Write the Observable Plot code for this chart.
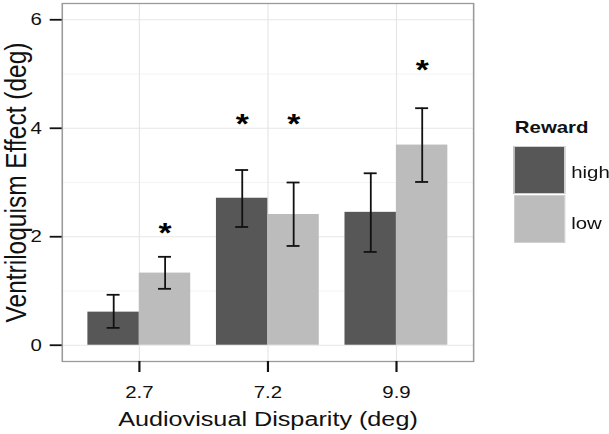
<!DOCTYPE html>
<html>
<head>
<meta charset="utf-8">
<script src="https://cdn.jsdelivr.net/npm/d3@7"></script>
<script src="https://cdn.jsdelivr.net/npm/@observablehq/plot@0.6"></script>
<style>
  html, body { margin: 0; padding: 0; background: #fff; }
  #wrap { position: relative; width: 609px; height: 434px; overflow: hidden; background: #fff; }
  #inner { position: absolute; left: 0; top: 0; width: 507.5px; height: 434px; transform: scaleX(1.2); transform-origin: 0 0; font-family: "Liberation Sans", Arial, sans-serif; }
  #legend { position: absolute; left: 0; top: 0; width: 507.5px; height: 434px; pointer-events: none; }
  .lg-title { position: absolute; left: 429px; top: 117px; font-size: 17px; font-weight: bold; color: #111; line-height: 22px; }
  .lg-key { position: absolute; left: 428px; width: 43px; height: 48px; box-sizing: border-box; border: 1px solid #d0d0d0; }
  .lg-lab { position: absolute; left: 476px; font-size: 17px; color: #111; line-height: 22px; }
</style>
</head>
<body>
<div id="wrap"><div id="inner"><div id="chart"></div><div id="legend"></div></div></div>
<script>
// ---- data ----
const disparity = ["2.7", "7.2", "9.9"];
const rewards = ["high", "low"];
const highMean = [0.61, 2.71, 2.45];
const highLo   = [0.32, 2.18, 1.72];
const highHi   = [0.93, 3.23, 3.17];
const lowMean  = [1.33, 2.41, 3.69];
const lowLo    = [1.04, 1.83, 3.01];
const lowHi    = [1.63, 3.00, 4.37];
const starDisparity = ["2.7", "7.2", "7.2", "9.9"];
const starReward    = ["low", "high", "low", "low"];
const starY         = [2.13, 4.13, 4.13, 5.13];
const yTicks = [0, 2, 4, 6];
const yMinor = [1, 3, 5];
const xTitle = "Audiovisual Disparity (deg)";
const yTitle = "Ventriloquism Effect (deg)";
const legendTitle = "Reward";
const colors = { high: "#575757", low: "#bcbcbc" };

// ---- tables ----
const table = disparity.flatMap((d, i) => [
  { disparity: d, reward: "high", mean: highMean[i], lo: highLo[i], hi: highHi[i] },
  { disparity: d, reward: "low",  mean: lowMean[i],  lo: lowLo[i],  hi: lowHi[i] }
]);
const high = table.filter(d => d.reward === "high");
const low = table.filter(d => d.reward === "low");
const stars = starDisparity.map((d, i) => ({ disparity: d, reward: starReward[i], y: starY[i] }));

// ---- layout ----
const W = 507.5, H = 434;
const mL = 51.4, mR = W - 394.2, mT = 3, mB = H - 361;
const xOpts = { type: "band", domain: disparity, paddingInner: 0.2, paddingOuter: 0.2, round: false };
const bw = Plot.scale({ x: { ...xOpts, range: [mL, W - mR] } }).bandwidth;
const q = bw / 4;
const cap = 5.4;
const ink = "#111";

const chart = Plot.plot({
  width: W, height: H,
  marginLeft: mL, marginRight: mR, marginTop: mT, marginBottom: mB,
  style: { fontFamily: "'Liberation Sans', Arial, sans-serif", color: ink, background: "white" },
  x: { ...xOpts, axis: null },
  y: { domain: [-0.3, 6.3], axis: null },
  color: { domain: rewards, range: [colors.high, colors.low] },
  marks: [
    Plot.ruleY(yMinor, { stroke: "#f3f3f3", strokeWidth: 1 }),
    Plot.ruleY(yTicks, { stroke: "#e6e6e6", strokeWidth: 1 }),
    Plot.ruleX(disparity, { x: d => d, stroke: "#e6e6e6", strokeWidth: 1 }),
    Plot.barY(high, { x: "disparity", y: "mean", fill: "reward", insetRight: bw / 2 }),
    Plot.barY(low,  { x: "disparity", y: "mean", fill: "reward", insetLeft: bw / 2 }),
    Plot.ruleX(high, { x: "disparity", y1: "lo", y2: "hi", dx: -q, stroke: ink, strokeWidth: 1.5 }),
    Plot.ruleX(low,  { x: "disparity", y1: "lo", y2: "hi", dx: q,  stroke: ink, strokeWidth: 1.5 }),
    Plot.tickY(high, { x: "disparity", y: "hi", insetLeft: q - cap, insetRight: 3 * q - cap, stroke: ink, strokeWidth: 1.8 }),
    Plot.tickY(high, { x: "disparity", y: "lo", insetLeft: q - cap, insetRight: 3 * q - cap, stroke: ink, strokeWidth: 1.8 }),
    Plot.tickY(low,  { x: "disparity", y: "hi", insetLeft: 3 * q - cap, insetRight: q - cap, stroke: ink, strokeWidth: 1.8 }),
    Plot.tickY(low,  { x: "disparity", y: "lo", insetLeft: 3 * q - cap, insetRight: q - cap, stroke: ink, strokeWidth: 1.8 }),
    Plot.text(stars.filter(d => d.reward === "high"), { x: "disparity", y: "y", text: () => "*", dx: -q, dy: 3, fontSize: 28, fontWeight: "bold", fill: "#000" }),
    Plot.text(stars.filter(d => d.reward === "low"),  { x: "disparity", y: "y", text: () => "*", dx: q,  dy: 3, fontSize: 28, fontWeight: "bold", fill: "#000" }),
    Plot.frame({ stroke: "#9a9a9a", strokeWidth: 1.3 }),
    Plot.axisY({ ticks: yTicks, tickFormat: d => String(d), tickSize: 10, tickPadding: 7, fontSize: 17, strokeWidth: 1.8, label: null, fill: ink }),
    Plot.axisX({ tickSize: 11, tickPadding: 13, fontSize: 17, strokeWidth: 1.8, label: null, fill: ink }),
    Plot.text([xTitle], { frameAnchor: "bottom", lineAnchor: "middle", textAnchor: "middle", dy: 58, fontSize: 21, fill: ink }),
    Plot.text([yTitle], { frameAnchor: "left", lineAnchor: "middle", textAnchor: "middle", dx: -38.5, rotate: -90, fontSize: 24.5, fill: ink })
  ]
});
document.getElementById("chart").appendChild(chart);

// ---- legend ----
const lg = document.getElementById("legend");
const t = document.createElement("div");
t.className = "lg-title"; t.textContent = legendTitle; lg.appendChild(t);
rewards.forEach((r, i) => {
  const k = document.createElement("div");
  k.className = "lg-key"; k.style.top = (146 + i * 49) + "px"; k.style.background = colors[r];
  lg.appendChild(k);
  const l = document.createElement("div");
  l.className = "lg-lab"; l.style.top = (162 + i * 51) + "px"; l.textContent = r;
  lg.appendChild(l);
});
</script>
</body>
</html>
